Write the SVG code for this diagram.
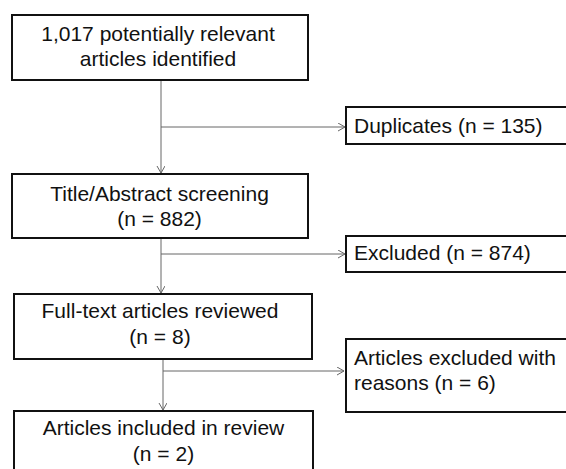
<svg xmlns="http://www.w3.org/2000/svg" width="566" height="469" viewBox="0 0 566 469">
<style>
.box{fill:#fff;stroke:#111;stroke-width:2}
.t{font-family:"Liberation Sans",Arial,sans-serif;font-size:21px;fill:#111}
.c{text-anchor:middle}
.ln{fill:none;stroke:#666;stroke-width:1}
</style>
<defs>
<marker id="ah" markerWidth="10" markerHeight="10" refX="8" refY="4" orient="auto" markerUnits="userSpaceOnUse">
<path d="M1,0 L8,4 L1,8" fill="none" stroke="#666" stroke-width="1"/>
</marker>
</defs>
<rect width="566" height="469" fill="#fff"/>
<g id="connectors">
<line class="ln" x1="161" y1="81" x2="161" y2="173" marker-end="url(#ah)"/>
<line class="ln" x1="161" y1="127" x2="345" y2="127" marker-end="url(#ah)"/>
<line class="ln" x1="161" y1="239" x2="161" y2="293" marker-end="url(#ah)"/>
<line class="ln" x1="161" y1="254" x2="345" y2="254" marker-end="url(#ah)"/>
<line class="ln" x1="163" y1="360" x2="163" y2="410" marker-end="url(#ah)"/>
<line class="ln" x1="163" y1="371" x2="344" y2="371" marker-end="url(#ah)"/>
</g>
<g id="identified">
<rect class="box" x="12" y="15" width="296" height="65"/>
<text class="t c" x="158" y="41">1,017 potentially relevant</text>
<text class="t c" x="158" y="65.5">articles identified</text>
</g>
<g id="duplicates">
<rect class="box" x="346" y="107" width="226" height="37"/>
<text class="t" x="354" y="133">Duplicates (n = 135)</text>
</g>
<g id="screening">
<rect class="box" x="12" y="174" width="296" height="64"/>
<text class="t c" x="159.5" y="201">Title/Abstract screening</text>
<text class="t c" x="159.5" y="226">(n = 882)</text>
</g>
<g id="excluded">
<rect class="box" x="346" y="236" width="226" height="36"/>
<text class="t" x="354" y="260">Excluded (n = 874)</text>
</g>
<g id="fulltext">
<rect class="box" x="14" y="294" width="298" height="65"/>
<text class="t c" x="160" y="318">Full-text articles reviewed</text>
<text class="t c" x="160" y="344">(n = 8)</text>
</g>
<g id="excluded-reasons">
<rect class="box" x="346" y="339" width="226" height="73"/>
<text class="t" x="354" y="365">Articles excluded with</text>
<text class="t" x="354" y="390">reasons (n = 6)</text>
</g>
<g id="included">
<rect class="box" x="14" y="411" width="299" height="66"/>
<text class="t c" x="163.5" y="435">Articles included in review</text>
<text class="t c" x="163.5" y="461">(n = 2)</text>
</g>
</svg>
